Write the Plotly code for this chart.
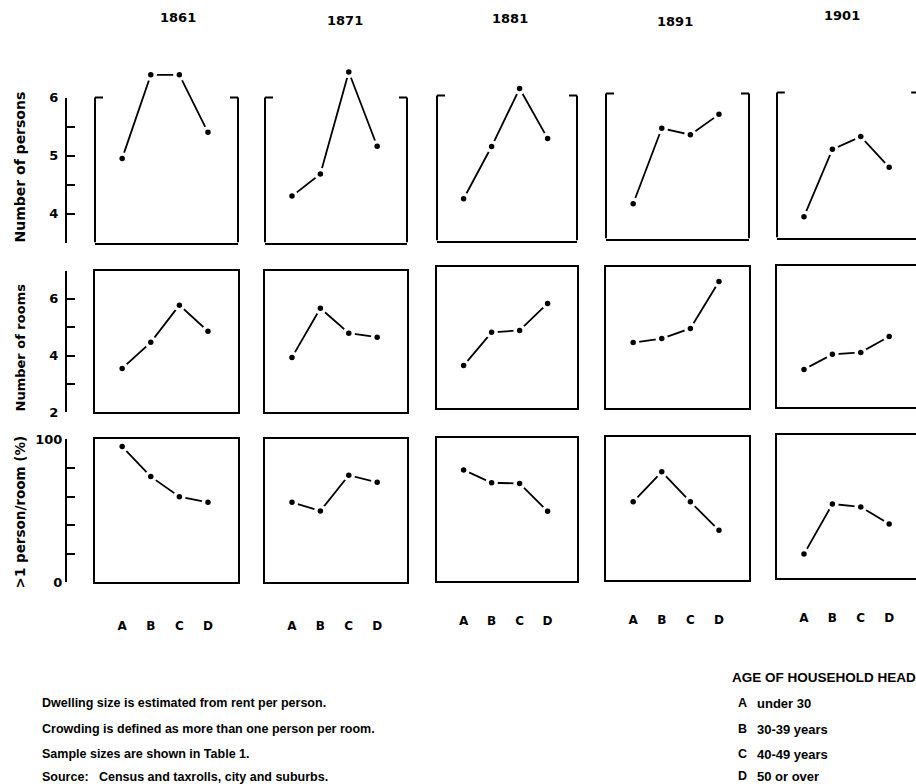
import plotly.graph_objects as go

# ---------------- data ----------------
years = ["1861", "1871", "1881", "1891", "1901"]
age_groups = ["A", "B", "C", "D"]
age_labels = ["under 30", "30-39 years", "40-49 years", "50 or over"]

# Number of persons per household, by year (rows) and age group A-D
persons = [
    [4.95, 6.39, 6.39, 5.40],
    [4.30, 4.68, 6.44, 5.16],
    [4.22, 5.12, 6.12, 5.26],
    [4.10, 5.40, 5.29, 5.64],
    [3.86, 5.02, 5.24, 4.71],
]
# Number of rooms
rooms = [
    [3.55, 4.47, 5.78, 4.86],
    [3.94, 5.67, 4.79, 4.65],
    [3.51, 4.68, 4.75, 5.70],
    [4.32, 4.46, 4.82, 6.47],
    [3.34, 3.87, 3.94, 4.50],
]
# Crowding: % with more than one person per room
crowding = [
    [95, 74, 60, 56],
    [56, 50, 75, 70],
    [78, 69, 68.5, 49],
    [55, 76, 55, 35],
    [17, 52, 50, 38],
]

row_titles = ["Number of persons", "Number of rooms", ">1 person/room (%)"]
notes = [
    "Dwelling size is estimated from rent per person.",
    "Crowding is defined as more than one person per room.",
    "Sample sizes are shown in Table 1.",
    "Source:\u00a0\u00a0 Census and taxrolls, city and suburbs.",
]

# ---------------- geometry (target picture pixels) ----------------
FW, FH = 916, 800
VIS_R = FW
# the captured picture maps page y to 0.9816*y + 6.4; compensate for it
YS, YO = 0.9816, 6.4

col_px = [(95, 238), (265, 407), (437, 577), (606, 749), (777, 919)]
row_px = [(65, 242), (270, 412), (439, 582)]          # top, bottom
row_ranges = [[3.5, 6.55], [2, 7], [0, 100]]
offsets = [[0, 0, -2, -4, -5], [0, 0, -4, -4, -5], [0, 0, -1, -2, -4]]
label_gap = [31, 31, 27, 27, 27]
xrange_full = [0.05, 5.05]

BOLD = "DejaVu Sans"
TEXT = "Liberation Sans, Arial, sans-serif"


def fx(p):
    return p / FW


def page_y(p):
    return (p - YO) / YS


def fy(p):
    return 1 - page_y(p) / FH


fig = go.Figure()
layout = dict(
    width=FW, height=FH, margin=dict(l=0, r=0, t=0, b=0),
    paper_bgcolor="white", plot_bgcolor="rgba(0,0,0,0)", showlegend=False,
)
shapes = []
annotations = []

data_rows = [persons, rooms, crowding]
xs = [1, 2, 3, 4]

for r in range(3):
    for c in range(5):
        k = r * 5 + c + 1
        xn = "x" if k == 1 else f"x{k}"
        yn = "y" if k == 1 else f"y{k}"
        xkey = "xaxis" if k == 1 else f"xaxis{k}"
        ykey = "yaxis" if k == 1 else f"yaxis{k}"
        x0p, x1p = col_px[c]
        truncated = x1p > VIS_R
        xr = list(xrange_full)
        if truncated:
            xr[1] = xr[0] + (xr[1] - xr[0]) * (VIS_R - x0p) / (x1p - x0p)
            x1p_eff = VIS_R
        else:
            x1p_eff = x1p
        top, bot = row_px[r]
        off = offsets[r][c]
        ydom = [fy(bot + off), fy(top + off)]

        fig.add_trace(go.Scatter(
            x=xs, y=data_rows[r][c], xaxis=xn, yaxis=yn,
            mode="lines+markers", cliponaxis=False,
            line=dict(color="black", width=1.8),
            marker=dict(color="black", size=9, line=dict(color="white", width=3.5)),
            hoverinfo="skip",
        ))

        xa = dict(
            domain=[fx(x0p), fx(x1p_eff)], range=xr, anchor=yn,
            showgrid=False, zeroline=False, showline=True, linecolor="black",
            linewidth=2, fixedrange=True,
        )
        if r == 2:
            xa.update(tickvals=xs, ticktext=age_groups, ticks="outside",
                      ticklen=label_gap[c], tickcolor="rgba(0,0,0,0)",
                      tickfont=dict(family=BOLD, size=12, color="black", weight="bold"))
        else:
            xa.update(showticklabels=False, ticks="")
        if r > 0:
            xa["mirror"] = True
        ya = dict(
            domain=ydom, range=row_ranges[r], anchor=xn,
            showgrid=False, zeroline=False, showticklabels=False, ticks="",
            fixedrange=True,
        )
        if r > 0:
            ya.update(showline=True, linecolor="black", linewidth=2,
                      mirror=(not truncated))
        else:
            ya.update(showline=False)
            right = 1.0 if not truncated else (x1p - x0p) / (VIS_R - x0p)
            stub = 8 / (x1p - x0p)
            for (sx0, sy0, sx1, sy1) in [
                (0, 3.5, 0, 6.0), (0, 6.0, stub, 6.0),
                (right, 3.5, right, 6.0), (right, 6.0, right - stub, 6.0),
            ]:
                shapes.append(dict(type="line", xref=f"{xn} domain", yref=yn,
                                   x0=sx0, y0=sy0, x1=sx1, y1=sy1,
                                   line=dict(color="black", width=2)))
        layout[xkey] = xa
        layout[ykey] = ya

# ---------------- free left scales ----------------
scale_px = [(97, 242), (270, 412), (439, 582)]
scale_ranges = [[3.5, 6.0], [2, 7], [0, 100]]
scale_ticks = [
    ([3.5, 4, 4.5, 5, 5.5, 6], ["", "4", "", "5", "", "6"]),
    ([2, 3, 4, 5, 6, 7], ["2", "", "4", "", "6", ""]),
    ([0, 20, 40, 60, 80, 100], ["0", "", "", "", "", "100"]),
]
for r in range(3):
    k = 16 + r
    fig.add_trace(go.Scatter(x=[None], y=[None], xaxis="x", yaxis=f"y{k}",
                             hoverinfo="skip", showlegend=False))
    top, bot = scale_px[r]
    layout[f"yaxis{k}"] = dict(
        domain=[fy(bot), fy(top)], range=scale_ranges[r], anchor="free",
        position=fx(66), side="left", showgrid=False, zeroline=False,
        showline=True, linecolor="black", linewidth=2,
        ticks="inside", ticklen=8, tickwidth=2, tickcolor="black",
        tickvals=scale_ticks[r][0], ticktext=scale_ticks[r][1],
        ticklabelstandoff=4 if r < 2 else 0,
        tickfont=dict(family=BOLD, size=13, color="black", weight="bold"),
        fixedrange=True,
    )

# ---------------- text ----------------
title_pos = [(178, 17), (345, 20), (510, 18), (675, 21), (842, 15)]
for yr, (tx, ty) in zip(years, title_pos):
    annotations.append(dict(text=yr, x=fx(tx), y=fy(ty), xref="paper", yref="paper",
                            showarrow=False, xanchor="center", yanchor="middle",
                            font=dict(family=BOLD, size=13, color="black", weight="bold")))

for t, cy, sz in zip(row_titles, [167, 347, 512], [14, 13, 13.5]):
    annotations.append(dict(text=t, x=fx(20), y=fy(cy), xref="paper", yref="paper",
                            showarrow=False, textangle=-90, xanchor="center",
                            yanchor="middle",
                            font=dict(family=BOLD, size=sz, color="black", weight="bold")))

for t, ly in zip(notes, [703, 729, 754, 777]):
    annotations.append(dict(text=t, x=fx(40), y=fy(ly), xref="paper", yref="paper",
                            showarrow=False, xanchor="left", yanchor="middle",
                            font=dict(family=TEXT, size=12.5, color="black", weight="bold")))

annotations.append(dict(text="AGE OF HOUSEHOLD HEAD", x=fx(730), y=fy(677),
                        xref="paper", yref="paper", showarrow=False, xanchor="left",
                        yanchor="middle",
                        font=dict(family=TEXT, size=13.5, color="black", weight="bold")))
for g, lab, ly in zip(age_groups, age_labels, [703, 729, 754, 776]):
    annotations.append(dict(text=g, x=fx(742), y=fy(ly), xref="paper", yref="paper",
                            showarrow=False, xanchor="center", yanchor="middle",
                            font=dict(family=TEXT, size=12.5, color="black", weight="bold")))
    annotations.append(dict(text=lab, x=fx(755), y=fy(ly), xref="paper", yref="paper",
                            showarrow=False, xanchor="left", yanchor="middle",
                            font=dict(family=TEXT, size=13, color="black", weight="bold")))

layout["shapes"] = shapes
layout["annotations"] = annotations
fig.update_layout(**layout)
fig.write_html(
    "out.html",
    config={"displayModeBar": False},
    post_script="document.body.style.margin='0';document.body.style.overflow='hidden';",
)
